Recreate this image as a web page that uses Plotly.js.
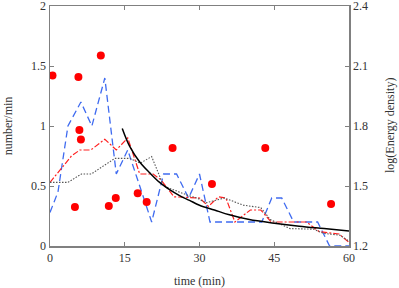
<!DOCTYPE html>
<html>
<head>
<meta charset="utf-8">
<script src="https://cdn.plot.ly/plotly-3.0.1.min.js"></script>
<style>html,body{margin:0;padding:0;background:#fff;}#chart{width:399px;height:288px;}</style>
</head>
<body>
<div id="chart"></div>
<script>
// Red dots: log(Energy density), right axis
const dotTime = [0.5, 5.7, 10.2, 5.9, 6.2, 5.0, 11.8, 13.2, 17.6, 19.4, 24.6, 32.5, 43.2, 56.4];
const dotLogE = [2.053, 2.045, 2.153, 1.78, 1.733, 1.395, 1.40, 1.44, 1.464, 1.42, 1.69, 1.51, 1.69, 1.41];

// Blue dashed series (number/min)
const blueTime = [0, 1.6, 3.6, 6.2, 8.4, 11.0, 13.3, 15.6, 20.4, 22.8, 25.4, 27.8, 30.0, 32.1, 42.5, 44.5, 46.5, 48.9, 53.7, 56.1, 60];
const blueRate = [0.28, 0.45, 1.0, 1.2, 1.0, 1.4, 0.6, 0.8, 0.2, 0.6, 0.6, 0.4, 0.6, 0.2, 0.2, 0.4, 0.4, 0.2, 0.2, 0, 0];

// Red dash-dot series (number/min)
const redTime = [0, 4.3, 6.0, 8.2, 11.0, 13.3, 15.6, 18.0, 20.7, 22.3, 24.9, 30.0, 31.8, 33.8, 35.3, 37.1, 40.2, 42.3, 44.4, 51.5, 54.0, 58.0, 60];
const redRate = [0.53, 0.75, 0.8, 0.8, 0.89, 0.8, 0.9, 0.6, 0.6, 0.55, 0.41, 0.4, 0.33, 0.41, 0.4, 0.2, 0.3, 0.3, 0.2, 0.2, 0.12, 0.1, 0.03];

// Black dotted series (number/min)
const dotLineTime = [0, 3.6, 6.3, 8.3, 13.0, 16.0, 18.1, 20.4, 22.8, 25.2, 27.8, 29.5, 31.3, 35.0, 38.8, 42.3, 44.2, 48.2, 52.9, 54.9, 58.2, 60];
const dotLineRate = [0.53, 0.53, 0.6, 0.6, 0.73, 0.73, 0.69, 0.745, 0.5, 0.46, 0.42, 0.4, 0.36, 0.4, 0.34, 0.32, 0.22, 0.145, 0.14, 0.105, 0.09, 0.04];

// Black solid decay curve (number/min)
const fitTime = [14.5, 16, 18, 20, 22, 24, 26, 28, 30, 33, 36, 40, 45, 50, 55, 60];
const fitRate = [0.98, 0.83, 0.70, 0.61, 0.53, 0.47, 0.42, 0.38, 0.34, 0.30, 0.26, 0.22, 0.19, 0.165, 0.145, 0.125];

const xTicks = [0, 15, 30, 45, 60];
const yTicks = [0, 0.5, 1, 1.5, 2];
const y2Ticks = [1.2, 1.5, 1.8, 2.1, 2.4];

const font = {family: "'Liberation Serif', 'Times New Roman', serif", size: 12, color: '#333'};

const traces = [
  {x: blueTime, y: blueRate, mode: 'lines', line: {color: '#3f6bf0', width: 1.3, dash: '7px,4px'}, hoverinfo: 'skip'},
  {x: redTime, y: redRate, mode: 'lines', line: {color: '#ff2020', width: 1.2, dash: '6px,2px,2px,2px'}, hoverinfo: 'skip'},
  {x: dotLineTime, y: dotLineRate, mode: 'lines', line: {color: '#555', width: 1.1, dash: '1.5px,1.5px'}, hoverinfo: 'skip'},
  {x: fitTime, y: fitRate, mode: 'lines', line: {color: '#000', width: 1.5, shape: 'spline'}, hoverinfo: 'skip'},
  {x: dotTime, y: dotLogE, yaxis: 'y2', mode: 'markers', marker: {color: '#ff0000', size: 8}, hoverinfo: 'skip'}
];

const layout = {
  width: 399, height: 288,
  margin: {l: 50, r: 50, t: 6, b: 42},
  paper_bgcolor: '#fff', plot_bgcolor: '#fff',
  showlegend: false,
  font: font,
  xaxis: {
    range: [0, 60], tickvals: xTicks, ticktext: xTicks.map(String),
    showgrid: false, zeroline: false, showline: true, linecolor: '#808080', linewidth: 1.5,
    mirror: 'ticks', ticks: 'inside', ticklen: 4, tickcolor: '#808080', tickwidth: 1,
    ticklabeloverflow: 'allow',
    title: {text: 'time (min)', font: font, standoff: 14}, automargin: false
  },
  yaxis: {
    range: [0, 2], tickvals: yTicks, ticktext: ['0', '0.5', '1', '1.5', '2'],
    showgrid: false, zeroline: false, showline: true, linecolor: '#808080', linewidth: 1.5,
    ticks: 'inside', ticklen: 4, tickcolor: '#808080', tickwidth: 1,
    ticklabeloverflow: 'allow',
    title: {text: 'number/min', font: font, standoff: 16}, automargin: false
  },
  yaxis2: {
    overlaying: 'y', side: 'right',
    range: [1.2, 2.4], tickvals: y2Ticks, ticktext: ['1.2', '1.5', '1.8', '2.1', '2.4'],
    showgrid: false, zeroline: false, showline: true, linecolor: '#808080', linewidth: 1.5,
    ticks: 'inside', ticklen: 4, tickcolor: '#808080', tickwidth: 1,
    ticklabeloverflow: 'allow', automargin: false
  },
  annotations: [{
    text: 'log(Energy density)', xref: 'paper', yref: 'paper', x: 1, y: 0.5,
    xanchor: 'center', yanchor: 'middle', xshift: 41, textangle: -90,
    showarrow: false, font: font
  }]
};

Plotly.newPlot('chart', traces, layout, {staticPlot: true, displayModeBar: false});
</script>
</body>
</html>
